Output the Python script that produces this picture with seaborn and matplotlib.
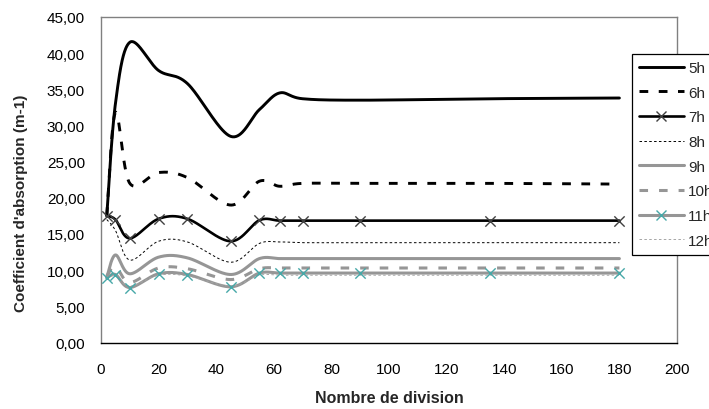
import numpy as np
import matplotlib
matplotlib.use("Agg")
import matplotlib.pyplot as plt
from matplotlib.lines import Line2D
import seaborn as sns

# ---- data ----
divisions = [2, 5, 10, 20, 30, 45, 55, 62, 70, 90, 135, 180]
h5 = [17.5, 33.0, 41.5, 37.6, 35.8, 28.5, 32.2, 34.5, 33.7, 33.5, 33.7, 33.8]
h6 = [17.5, 31.8, 22.0, 23.5, 22.8, 19.0, 22.3, 21.6, 22.0, 22.0, 22.0, 21.9]
h7 = [17.5, 17.0, 14.4, 17.1, 17.1, 14.0, 16.9, 16.85, 16.85, 16.85, 16.85, 16.85]
h8 = [17.0, 15.5, 11.4, 14.0, 13.9, 11.1, 13.7, 13.9, 13.8, 13.8, 13.8, 13.8]
h9 = [9.0, 12.1, 9.5, 11.8, 11.7, 9.4, 11.6, 11.6, 11.6, 11.6, 11.6, 11.6]
h10 = [9.2, 10.5, 8.3, 10.3, 10.2, 8.7, 10.2, 10.3, 10.3, 10.3, 10.3, 10.3]
h11 = [8.9, 9.4, 7.6, 9.5, 9.4, 7.7, 9.6, 9.6, 9.6, 9.6, 9.6, 9.6]
h12 = [8.8, 9.2, 7.8, 9.3, 9.2, 7.8, 9.3, 9.3, 9.3, 9.3, 9.3, 9.3]
labels = ["5h", "6h", "7h", "8h", "9h", "10h", "11h", "12h"]
y_ticks = [0, 5, 10, 15, 20, 25, 30, 35, 40, 45]
x_ticks = [0, 20, 40, 60, 80, 100, 120, 140, 160, 180, 200]


def smooth(x, y, n=40):
    """Excel-like smoothed line (cubic Bezier through the data points)."""
    pts = np.column_stack([x, y]).astype(float)
    N = len(pts)
    out = []
    t = np.linspace(0, 1, n)[:, None]
    for i in range(N - 1):
        p0 = pts[i - 1] if i > 0 else pts[i]
        p1, p2 = pts[i], pts[i + 1]
        p3 = pts[i + 2] if i + 2 < N else pts[i + 1]
        c1 = p1 + (p2 - p0) / 6.0
        c2 = p2 - (p3 - p1) / 6.0
        seg = (1 - t) ** 3 * p1 + 3 * (1 - t) ** 2 * t * c1 + 3 * (1 - t) * t ** 2 * c2 + t ** 3 * p2
        out.append(seg if i == 0 else seg[1:])
    s = np.vstack(out)
    return s[:, 0], s[:, 1]


sns.set_theme(style="white")
plt.rcParams["font.family"] = ["Liberation Sans", "DejaVu Sans"]

fig = plt.figure(figsize=(7.09, 4.10), dpi=100)
L, R, T, B = 101, 677, 18, 343.5
ax = fig.add_axes([L / 709, 1 - B / 410, (R - L) / 709, (B - T) / 410])

GRAY = "#969696"
TEAL = "#46a8a8"
styles = [
    dict(color="black", lw=2.1, ls="-"),
    dict(color="black", lw=2.1, ls=(0, (3.0, 3.6))),
    dict(color="black", lw=1.9, ls="-"),
    dict(color="black", lw=0.7, ls=(0, (2.6, 2.4))),
    dict(color=GRAY, lw=2.2, ls="-"),
    dict(color=GRAY, lw=2.2, ls=(0, (2.8, 3.6))),
    dict(color=GRAY, lw=2.2, ls="-"),
    dict(color="#a6a6a6", lw=0.7, ls=(0, (2.6, 2.4))),
]
markers = [None, None, "#404040", None, None, None, TEAL, None]
series = [h5, h6, h7, h8, h9, h10, h11, h12]

handles = []
for vals, st, mk, lab in zip(series, styles, markers, labels):
    xs, ys = smooth(divisions, vals)
    sns.lineplot(x=xs, y=ys, ax=ax, color=st["color"], linewidth=st["lw"],
                 linestyle=st["ls"], sort=False, estimator=None)
    if mk is not None:
        sns.scatterplot(x=divisions, y=vals, ax=ax, marker="x", color=mk,
                        s=55, linewidth=1.0, zorder=5)
    handles.append(Line2D([], [], color=st["color"], lw=st["lw"], ls=st["ls"],
                          marker="x" if mk else None, markersize=7.5,
                          markeredgecolor=mk, markeredgewidth=1.0,
                          markevery=[1] if mk else None))

ax.set_xlim(0, 200)
ax.set_ylim(0, 45)
ax.set_xticks(x_ticks)
ax.set_yticks(y_ticks)
ax.set_xticklabels([str(v) for v in x_ticks])
ax.set_yticklabels([f"{v:.2f}".replace(".", ",") for v in y_ticks])
ax.tick_params(axis="both", which="both", direction="out", length=4, width=1,
               labelsize=11, colors="black")
ax.tick_params(axis="y", pad=7.5, color="#808080")
ax.tick_params(axis="x", pad=10, color="black")
ax.grid(False)
for side in ["left", "top", "right"]:
    ax.spines[side].set_color("#808080")
    ax.spines[side].set_linewidth(1.0)
ax.spines["bottom"].set_color("black")
ax.spines["bottom"].set_linewidth(1.0)

ax.set_xlabel("Nombre de division", fontsize=11.5, fontweight="bold", va="top")
ax.xaxis.set_label_coords(0.5, -(391 - B) / (B - T))
ax.set_ylabel("Coefficient d'absorption (m-1)", fontsize=11, fontweight="bold", va="center")
ax.yaxis.set_label_coords((21 - L) / (R - L), (B - 203.5) / (B - T))

leg = ax.legend(handles, labels, loc="upper left",
                bbox_to_anchor=(632 / 709, 1 - 55 / 410), bbox_transform=fig.transFigure,
                borderaxespad=0, frameon=True, fancybox=False, shadow=False,
                fontsize=11, handlelength=2.95, handletextpad=0.28,
                labelspacing=0.7, borderpad=0.45)
leg.get_frame().set_edgecolor("black")
leg.get_frame().set_linewidth(0.9)
leg.get_frame().set_facecolor("white")
leg.get_frame().set_alpha(1)

fig.savefig("out.png", dpi=100)
